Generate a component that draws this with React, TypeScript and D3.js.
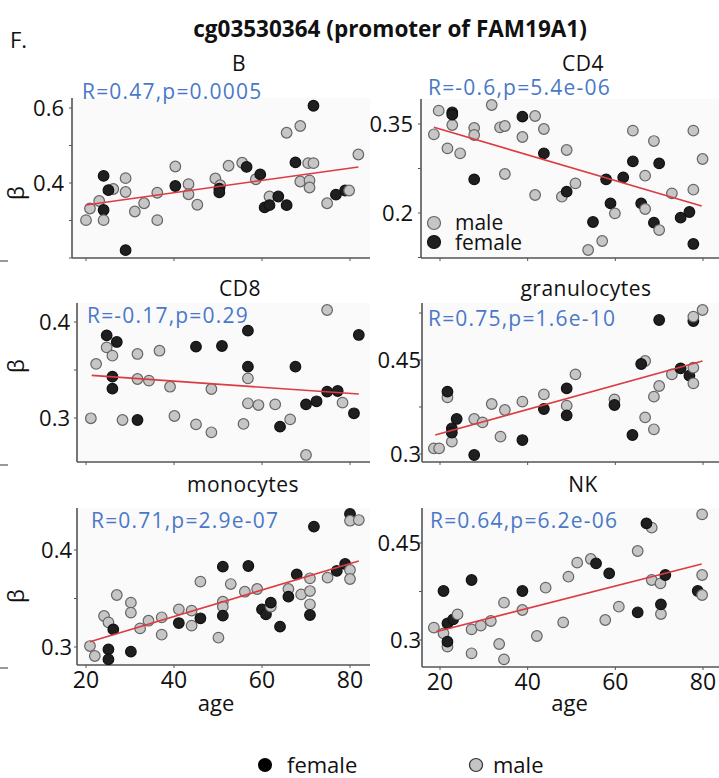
import React from "react";
import * as d3 from "d3";

// ---------------- data ----------------
const panelNames = ["B", "CD4", "CD8", "granulocytes", "monocytes", "NK"];
const statLabels = [
  "R=0.47,p=0.0005",
  "R=-0.6,p=5.4e-06",
  "R=-0.17,p=0.29",
  "R=0.75,p=1.6e-10",
  "R=0.71,p=2.9e-07",
  "R=0.64,p=6.2e-06",
];
const yTickValues = [
  [0.4, 0.6],
  [0.2, 0.35],
  [0.3, 0.4],
  [0.3, 0.45],
  [0.3, 0.4],
  [0.3, 0.45],
];
const xTickValues = [20, 40, 60, 80];
const legendLabels = ["female", "male"];

// [age, beta, female(1)/male(0)]
const pointsB = [
  [20.0, 0.301, 0], [20.9, 0.332, 0], [23.0, 0.352, 0], [24.0, 0.419, 1], [26.2, 0.384, 0], [25.1, 0.381, 1],
  [24.0, 0.328, 1], [24.0, 0.301, 0], [29.0, 0.413, 0], [29.0, 0.376, 0], [29.0, 0.221, 1], [31.1, 0.324, 0],
  [33.2, 0.346, 0], [36.2, 0.374, 0], [36.2, 0.301, 0], [40.3, 0.444, 0], [40.3, 0.392, 1], [43.3, 0.397, 0],
  [43.3, 0.370, 0], [45.3, 0.342, 0], [49.4, 0.412, 0], [50.5, 0.394, 0], [50.3, 0.385, 1], [50.3, 0.375, 1],
  [52.4, 0.446, 0], [55.5, 0.454, 0], [56.5, 0.443, 1], [58.6, 0.410, 0], [59.6, 0.423, 1], [60.6, 0.335, 1],
  [61.7, 0.364, 0], [61.7, 0.341, 1], [63.7, 0.364, 1], [65.6, 0.534, 0], [65.6, 0.341, 1], [67.6, 0.455, 1],
  [68.7, 0.552, 0], [68.7, 0.404, 0], [70.5, 0.453, 0], [71.7, 0.453, 0], [70.8, 0.407, 0], [70.8, 0.388, 0],
  [71.7, 0.606, 1], [74.8, 0.346, 0], [76.8, 0.369, 1], [78.9, 0.380, 1], [79.8, 0.380, 0], [81.9, 0.476, 0],
];
const pointsCD4 = [
  [18.6, 0.3326, 0], [19.7, 0.3725, 0], [21.7, 0.309, 0], [22.8, 0.3483, 0], [22.8, 0.3697, 1], [22.8, 0.3657, 1],
  [24.6, 0.3006, 0], [27.8, 0.3433, 0], [27.8, 0.3315, 0], [27.8, 0.2567, 1], [31.8, 0.382, 0], [33.7, 0.3444, 0],
  [34.8, 0.3466, 0], [34.8, 0.2657, 0], [38.8, 0.3624, 1], [38.8, 0.3281, 0], [41.7, 0.3635, 0], [41.7, 0.2303, 0],
  [43.7, 0.3416, 0], [43.7, 0.3006, 1], [47.8, 0.2275, 0], [48.9, 0.3062, 0], [48.9, 0.2360, 1], [50.9, 0.2500, 0],
  [53.8, 0.1376, 0], [54.9, 0.1848, 1], [57.0, 0.1528, 0], [57.9, 0.2567, 1], [58.9, 0.2163, 1], [59.9, 0.1994, 0],
  [61.8, 0.2601, 1], [64.0, 0.3388, 0], [64.0, 0.2871, 1], [65.9, 0.2163, 1], [66.8, 0.2067, 0], [66.8, 0.2629, 0],
  [68.8, 0.3213, 0], [68.8, 0.1837, 1], [70.0, 0.1713, 0], [70.0, 0.2837, 1], [72.9, 0.2331, 0], [74.9, 0.1921, 1],
  [76.9, 0.2017, 1], [77.8, 0.3388, 0], [77.8, 0.2393, 0], [77.8, 0.1478, 1], [79.9, 0.2910, 0],
];
const pointsCD8 = [
  [21.1, 0.2997, 0], [22.3, 0.3563, 0], [24.7, 0.3736, 0], [24.7, 0.3861, 1], [26.0, 0.3649, 0], [26.0, 0.3431, 1],
  [26.0, 0.3306, 1], [27.0, 0.3792, 1], [28.3, 0.2979, 0], [31.7, 0.3667, 0], [31.7, 0.3406, 0], [31.7, 0.2979, 1],
  [34.3, 0.3389, 0], [36.7, 0.3701, 0], [39.1, 0.3326, 0], [40.1, 0.3021, 0], [45.0, 0.3743, 1], [45.0, 0.2934, 0],
  [48.5, 0.3302, 0], [48.5, 0.2851, 0], [50.9, 0.375, 1], [55.8, 0.2938, 0], [56.8, 0.391, 1], [56.8, 0.3535, 1],
  [56.8, 0.3413, 0], [56.8, 0.3153, 0], [59.2, 0.3135, 0], [63.0, 0.3142, 0], [64.1, 0.2910, 1], [66.4, 0.2986, 0],
  [67.6, 0.3535, 1], [70.0, 0.3142, 1], [70.0, 0.2615, 0], [72.4, 0.3174, 1], [74.8, 0.4125, 0], [74.8, 0.3274, 1],
  [77.2, 0.3281, 1], [78.3, 0.3160, 0], [80.9, 0.3049, 1], [82.0, 0.3865, 1],
];
const pointsGran = [
  [18.6, 0.3090, 0], [19.8, 0.3090, 0], [21.7, 0.3904, 0], [21.7, 0.3995, 1], [22.7, 0.3197, 0], [22.7, 0.3410, 1],
  [22.7, 0.3340, 1], [23.8, 0.3559, 1], [27.8, 0.3559, 0], [27.8, 0.2984, 1], [29.7, 0.3505, 0], [31.8, 0.3798, 0],
  [33.8, 0.3277, 0], [34.8, 0.3702, 0], [38.8, 0.3835, 0], [38.8, 0.3223, 1], [43.7, 0.3952, 0], [43.7, 0.3718, 1],
  [48.9, 0.4048, 1], [48.9, 0.3771, 0], [48.9, 0.3617, 1], [50.9, 0.4271, 0], [59.8, 0.3872, 0], [59.8, 0.3782, 1],
  [63.9, 0.3303, 1], [66.8, 0.4484, 0], [65.9, 0.4436, 1], [66.8, 0.3585, 0], [68.8, 0.3915, 0], [68.8, 0.3394, 0],
  [70.0, 0.4085, 0], [70.0, 0.5138, 1], [72.9, 0.4271, 0], [74.9, 0.4367, 1], [76.9, 0.4250, 1], [77.8, 0.4378, 0],
  [77.8, 0.4128, 0], [77.8, 0.5122, 1], [77.8, 0.5191, 0], [79.9, 0.5298, 0],
];
const pointsMono = [
  [20.9, 0.3010, 0], [22.0, 0.2907, 0], [24.1, 0.3320, 0], [25.1, 0.3254, 0], [25.1, 0.2976, 1], [25.1, 0.2873, 1],
  [26.2, 0.3182, 1], [27.0, 0.3536, 0], [30.2, 0.3457, 0], [30.2, 0.3354, 0], [30.2, 0.2952, 1], [32.3, 0.3192, 0],
  [34.2, 0.3271, 0], [37.2, 0.3306, 0], [37.2, 0.3127, 0], [41.1, 0.3388, 0], [41.1, 0.3247, 1], [44.0, 0.3375, 0],
  [44.0, 0.3220, 0], [46.0, 0.3296, 1], [46.0, 0.3674, 0], [50.1, 0.3096, 0], [51.1, 0.3467, 0], [51.1, 0.3416, 0],
  [51.1, 0.3323, 1], [51.1, 0.3828, 1], [52.9, 0.3649, 0], [56.1, 0.3570, 0], [56.9, 0.3835, 1], [58.9, 0.3598, 0],
  [60.0, 0.3388, 1], [60.9, 0.3337, 1], [62.0, 0.3416, 0], [62.0, 0.3457, 1], [64.1, 0.3210, 1], [66.0, 0.3598, 0],
  [66.0, 0.3519, 1], [67.9, 0.3749, 1], [68.9, 0.3543, 0], [70.9, 0.3708, 0], [70.9, 0.3577, 0], [70.9, 0.3440, 0],
  [70.9, 0.3330, 1], [71.8, 0.4241, 1], [74.9, 0.3715, 0], [77.0, 0.3784, 1], [78.9, 0.3856, 1], [80.0, 0.3794, 0],
  [80.0, 0.3701, 0], [80.0, 0.4371, 1], [80.0, 0.4302, 0], [82.0, 0.4309, 0],
];
const pointsNK = [
  [18.6, 0.3191, 0], [20.8, 0.3758, 1], [20.8, 0.3103, 0], [21.7, 0.2897, 0], [21.7, 0.2974, 1], [21.7, 0.3258, 1],
  [23.0, 0.3320, 1], [24.0, 0.3397, 0], [27.2, 0.3165, 0], [27.2, 0.3928, 1], [27.2, 0.2794, 0], [29.3, 0.3222, 0],
  [31.6, 0.3294, 0], [33.5, 0.2938, 0], [34.6, 0.3577, 0], [34.6, 0.2701, 0], [38.8, 0.3758, 1], [38.8, 0.3464, 0],
  [42.1, 0.3062, 0], [44.1, 0.3809, 0], [48.1, 0.3273, 0], [49.3, 0.3979, 0], [51.3, 0.4196, 0], [54.4, 0.4253, 0],
  [55.6, 0.4186, 1], [57.7, 0.3309, 0], [58.6, 0.4031, 1], [60.8, 0.3515, 0], [65.1, 0.4376, 0], [65.1, 0.3428, 1],
  [68.3, 0.4737, 0], [67.1, 0.4804, 1], [68.3, 0.3928, 0], [70.3, 0.3876, 0], [70.4, 0.3402, 0], [70.4, 0.3551, 1],
  [71.4, 0.4005, 1], [78.8, 0.3758, 1], [79.8, 0.3696, 0], [79.8, 0.4005, 0], [79.8, 0.4943, 0],
];
// regression line endpoints [age0, beta0, age1, beta1]
const fitB = [20.0, 0.3413, 81.9, 0.4427];
const fitCD4 = [18.6, 0.3444, 79.7, 0.2118];
const fitCD8 = [21.3, 0.3444, 82.0, 0.325];
const fitGran = [18.9, 0.3303, 79.9, 0.4484];
const fitMono = [20.9, 0.3055, 82.0, 0.3887];
const fitNK = [19.1, 0.3129, 79.7, 0.4175];

const panelPoints = [pointsB, pointsCD4, pointsCD8, pointsGran, pointsMono, pointsNK];
const panelFits = [fitB, fitCD4, fitCD8, fitGran, fitMono, fitNK];

// ---------------- layout ----------------
const layouts = [
  { left: 72, right: 370, top: 98, bottom: 258, xr: [86, 350], yr: [183, 108], title: [239, 71], stat: [82, 99], gap: 8, beta: 193, xlab: false },
  { left: 421, right: 719, top: 99, bottom: 258, xr: [440, 703], yr: [213, 124], title: [583, 71], stat: [428, 95], gap: 8, beta: 0, xlab: false },
  { left: 77, right: 370, top: 303, bottom: 462, xr: [86, 350], yr: [418, 322], title: [240, 296], stat: [87, 323], gap: 7, beta: 366, xlab: false },
  { left: 422, right: 719, top: 303, bottom: 462, xr: [440, 703], yr: [454, 360], title: [586, 296], stat: [428, 326], gap: 1, beta: 0, xlab: false },
  { left: 77, right: 370, top: 508, bottom: 665, xr: [86, 350], yr: [647, 550], title: [243, 492], stat: [91, 528], gap: 5, beta: 596, xlab: true },
  { left: 422, right: 719, top: 508, bottom: 667, xr: [440, 703], yr: [640, 543], title: [583, 492], stat: [430, 528], gap: 1, beta: 0, xlab: true },
];

const FONT = "'Open Sans', 'Liberation Sans', sans-serif";
const AXIS = "#555";
const GRAY_FILL = "#c6c6c6";
const GRAY_STROKE = "#666";
const BLACK_FILL = "#1f1f1f";
const R = 5.3;

function Panel({ i }: { i: number }) {
  const L = layouts[i];
  const x = d3.scaleLinear().domain([20, 80]).range(L.xr);
  const y = d3.scaleLinear().domain(yTickValues[i]).range(L.yr);
  const step = (yTickValues[i][1] - yTickValues[i][0]) / 2;
  const yLo = y.invert(L.bottom);
  const yHi = y.invert(L.top);
  const minorTicks = d3
    .range(Math.ceil((yLo - yTickValues[i][0]) / step - 1e-6), Math.floor((yHi - yTickValues[i][0]) / step + 1e-6) + 1)
    .map((k) => yTickValues[i][0] + k * step);
  const f = panelFits[i];
  const line = d3.line<number[]>().x((d) => x(d[0])).y((d) => y(d[1]));
  return (
    <g>
      <rect x={L.left} y={L.top} width={L.right - L.left} height={L.bottom - L.top} fill="#fafafa" />
      {/* title */}
      <text x={L.title[0]} y={L.title[1]} textAnchor="middle" fontSize={21} letterSpacing={0.5} fontFamily={FONT} fill="#111">
        {panelNames[i]}
      </text>
      {/* axes */}
      <line x1={L.left} x2={L.left} y1={L.top} y2={L.bottom} stroke={AXIS} strokeWidth={1.6} />
      <line x1={L.left} x2={L.right} y1={L.bottom} y2={L.bottom} stroke={AXIS} strokeWidth={1.6} />
      {minorTicks.map((t, k) => (
        <line key={"yt" + k} x1={L.left - 3} x2={L.left} y1={y(t)} y2={y(t)} stroke={AXIS} strokeWidth={1} />
      ))}
      {xTickValues.map((t) => (
        <line key={"xt" + t} x1={x(t)} x2={x(t)} y1={L.bottom} y2={L.bottom + 3} stroke={AXIS} strokeWidth={1} />
      ))}
      {yTickValues[i].map((t) => (
        <text key={"yl" + t} x={L.left - L.gap} y={y(t)} dy="0.36em" textAnchor="end" fontSize={22} fontFamily={FONT} fill="#111">
          {String(t)}
        </text>
      ))}
      {L.xlab &&
        xTickValues.map((t) => (
          <text key={"xl" + t} x={x(t)} y={L.bottom + 23} textAnchor="middle" fontSize={23} fontFamily={FONT} fill="#111">
            {t}
          </text>
        ))}
      {L.xlab && (
        <text x={(x(20) + x(80)) / 2 - 2} y={711} textAnchor="middle" fontSize={22} fontFamily={FONT} fill="#111">
          age
        </text>
      )}
      {L.beta > 0 && (
        <text x={0} y={0} transform={`translate(24,${L.beta}) rotate(-90)`} textAnchor="middle" fontSize={22} fontFamily={FONT} fill="#111">
          β
        </text>
      )}
      {/* points */}
      {panelPoints[i].map((p, k) => (
        <circle
          key={k}
          cx={x(p[0])}
          cy={y(p[1])}
          r={R}
          fill={p[2] === 1 ? BLACK_FILL : GRAY_FILL}
          stroke={p[2] === 1 ? "#111" : GRAY_STROKE}
          strokeWidth={1.2}
        />
      ))}
      {/* fit */}
      <path d={line([[f[0], f[1]], [f[2], f[3]]]) || ""} stroke="#dc3b42" strokeWidth={1.6} fill="none" />
      {/* stat */}
      <text x={L.stat[0]} y={L.stat[1]} fontSize={21} letterSpacing={1.2} fontFamily={FONT} fill="#4a78c8">
        {statLabels[i]}
      </text>
    </g>
  );
}

export default function App() {
  return (
    <svg width={719} height={778} style={{ position: "absolute", left: 0, top: 0, background: "#fff" }}>
      <rect x={0} y={0} width={719} height={778} fill="#fff" />
      <text x={10} y={48} fontSize={22} fontFamily={FONT} fill="#111">F.</text>
      <text x={390} y={37} textAnchor="middle" fontSize={22.5} fontWeight="bold" fontFamily={FONT} fill="#111">
        cg03530364 (promoter of FAM19A1)
      </text>
      {/* cropping artifacts at left edge */}
      {[261, 465, 668].map((yy) => (
        <line key={yy} x1={0} x2={8} y1={yy} y2={yy} stroke="#777" strokeWidth={1.5} />
      ))}
      {layouts.map((_, i) => (
        <Panel key={i} i={i} />
      ))}
      {/* inner legend in CD4 panel */}
      <circle cx={434} cy={223} r={6.5} fill={GRAY_FILL} stroke={GRAY_STROKE} strokeWidth={1.2} />
      <text x={455} y={230} fontSize={21} fontFamily={FONT} fill="#111">{legendLabels[1]}</text>
      <circle cx={434} cy={242} r={6.5} fill={BLACK_FILL} stroke="#111" strokeWidth={1.2} />
      <text x={455} y={250} fontSize={21} fontFamily={FONT} fill="#111">{legendLabels[0]}</text>
      {/* bottom legend */}
      <circle cx={265} cy={765} r={7} fill="#000" />
      <text x={287} y={773} fontSize={22} fontFamily={FONT} fill="#111">{legendLabels[0]}</text>
      <circle cx={476} cy={765} r={6.5} fill="#c4c4c4" stroke="#333" strokeWidth={1.2} />
      <text x={493} y={773} fontSize={22} fontFamily={FONT} fill="#111">{legendLabels[1]}</text>
    </svg>
  );
}
